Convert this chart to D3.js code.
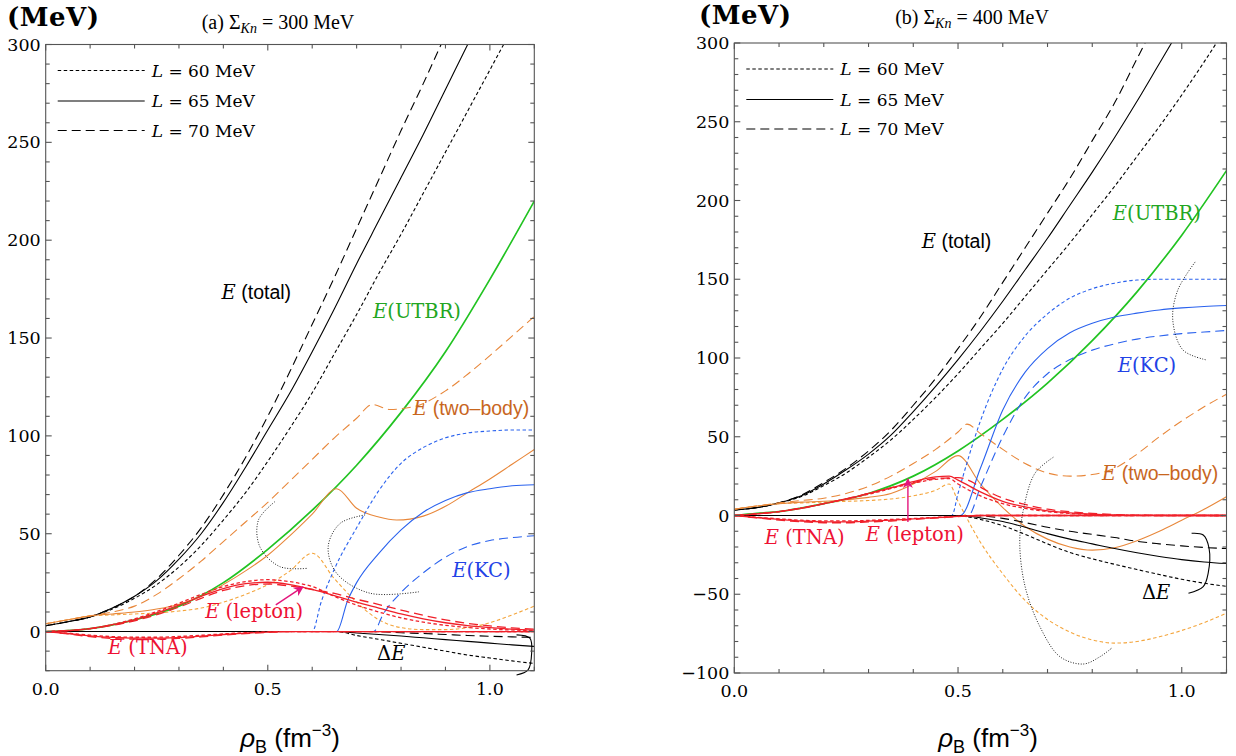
<!DOCTYPE html>
<html><head><meta charset="utf-8">
<script src="https://cdn.jsdelivr.net/npm/d3@7"></script>
<style>body{margin:0;background:#fff}svg{display:block}</style></head>
<body><svg id="c" width="1236" height="756"></svg>
<script>
// ---------- axis ticks ----------
const xTickVals = [0, 0.5, 1.0];
const xTickLabels = ["0.0", "0.5", "1.0"];
const aYTicks = [0, 50, 100, 150, 200, 250, 300];
const bYTicks = [-100, -50, 0, 50, 100, 150, 200, 250, 300];
const legendLabels = ["60", "65", "70"];

// ---------- panel (a) Σ_Kn = 300 MeV : [rho, E] ----------
const a_total60 = [[0,3],[0.05,5],[0.1,7.5],[0.15,11.5],[0.2,17],[0.25,24],[0.3,33],[0.35,44],[0.4,57],[0.45,71],[0.5,87],[0.55,104],[0.6,122],[0.65,142],[0.7,162],[0.75,183],[0.8,203],[0.85,224],[0.9,245],[0.95,266],[1.0,287],[1.05,308]];
const a_total65 = [[0,3],[0.05,5],[0.1,7.5],[0.15,12],[0.2,18],[0.25,26],[0.3,37],[0.35,50],[0.4,66],[0.45,84],[0.5,103],[0.55,122],[0.6,143],[0.65,165],[0.7,188],[0.75,210],[0.8,232],[0.85,254],[0.9,277],[0.95,300],[0.97,309]];
const a_total70 = [[0,3],[0.05,5],[0.1,7.5],[0.15,12],[0.2,18],[0.25,27],[0.3,39],[0.35,53],[0.4,70],[0.45,89],[0.5,110],[0.55,133],[0.6,157],[0.65,181],[0.7,206],[0.75,231],[0.8,256],[0.85,280],[0.9,305]];
const a_utbr = [[0,0],[0.1,1.5],[0.2,6],[0.3,13],[0.4,25],[0.5,42],[0.6,62],[0.7,85],[0.8,112],[0.9,143],[1.0,180],[1.1,220]];
const a_two60 = [[0,4],[0.05,6],[0.1,8],[0.15,8.5],[0.2,9],[0.25,9.5],[0.3,10.5],[0.35,12],[0.4,15],[0.45,19],[0.5,24],[0.55,31],[0.6,40],[0.65,27],[0.7,15],[0.75,6],[0.8,2],[0.85,1],[0.9,1],[0.95,2],[1.0,4.5],[1.05,8.5],[1.1,13]];
const a_two65 = [[0,4],[0.05,6],[0.1,8],[0.15,9],[0.2,10],[0.25,11.5],[0.3,14],[0.35,18],[0.4,24],[0.45,31],[0.5,39],[0.55,49],[0.6,60],[0.655,73],[0.7,63],[0.75,58.5],[0.79,57],[0.85,59],[0.9,64],[0.95,71],[1.0,78],[1.05,85.5],[1.1,93]];
const a_two70 = [[0,4],[0.05,6],[0.1,8],[0.15,10],[0.2,13],[0.25,19],[0.3,27],[0.35,36],[0.4,46],[0.45,56],[0.5,66],[0.55,77],[0.6,88],[0.65,99],[0.7,109],[0.735,116],[0.775,113.5],[0.83,115],[0.9,123],[0.95,131.5],[1.0,141],[1.05,151],[1.1,161]];
const a_kc60 = [[0,0],[0.6,0],[0.62,15],[0.65,32],[0.7,53],[0.75,72],[0.8,86],[0.85,94],[0.9,99],[0.95,101.5],[1.0,102.5],[1.05,103],[1.1,103]];
const a_kc65 = [[0,0],[0.655,0],[0.68,16],[0.7,25],[0.75,40],[0.8,52],[0.85,61],[0.9,67],[0.95,71],[1.0,73],[1.05,74.5],[1.1,75]];
const a_kc70 = [[0,0],[0.738,0],[0.76,9],[0.8,20],[0.85,30],[0.9,38],[0.95,43.5],[1.0,46.5],[1.05,48],[1.1,49]];
const a_dE60 = [[0,0],[0.655,0],[0.7,-2],[0.75,-4],[0.8,-6],[0.85,-8],[0.9,-10],[0.95,-12],[1.0,-13.5],[1.05,-15],[1.1,-16.3]];
const a_dE65 = [[0,0],[0.655,0],[0.7,-0.7],[0.75,-1.5],[0.8,-2.3],[0.85,-3.2],[0.9,-4.1],[0.95,-5],[1.0,-5.9],[1.05,-6.8],[1.1,-7.6]];
const a_dE70 = [[0,0],[0.738,0],[0.8,-0.6],[0.85,-1],[0.9,-1.5],[0.95,-2],[1.0,-2.4],[1.05,-2.7],[1.1,-3]];
const a_lep60 = [[0,0],[0.1,1.5],[0.2,6.5],[0.3,14.5],[0.35,19],[0.4,23],[0.45,25.5],[0.5,26.5],[0.55,25.5],[0.6,23],[0.655,17.5],[0.7,13.5],[0.75,10],[0.8,7],[0.85,4.8],[0.9,3.2],[0.95,2.1],[1.0,1.3],[1.1,0.5]];
const a_lep65 = [[0,0],[0.05,0.5],[0.1,1.5],[0.15,3.5],[0.2,6],[0.25,9.5],[0.3,13.5],[0.35,18],[0.4,22],[0.45,24.5],[0.5,25.2],[0.55,24],[0.6,21.5],[0.655,18],[0.7,15],[0.75,12],[0.8,9],[0.85,6.5],[0.9,4.5],[0.95,3],[1.0,2],[1.05,1.2],[1.1,0.7]];
const a_lep70 = [[0,0],[0.1,1.5],[0.2,5.5],[0.3,12.5],[0.35,17],[0.4,21],[0.45,23.5],[0.5,24.3],[0.55,23.3],[0.6,21.5],[0.65,19.5],[0.7,16.5],[0.738,14.5],[0.8,11],[0.85,8.3],[0.9,6],[0.95,4.2],[1.0,2.9],[1.05,1.9],[1.1,1.2]];
const a_tna60 = [[0,0],[0.05,-0.8],[0.1,-1.8],[0.15,-2.6],[0.2,-2.9],[0.25,-2.9],[0.3,-2.5],[0.35,-1.9],[0.4,-1.2],[0.45,-0.6],[0.5,-0.2],[0.55,0],[1.1,0]];
const a_tna65 = [[0,0],[0.05,-1],[0.1,-2.2],[0.15,-3],[0.2,-3.4],[0.25,-3.4],[0.3,-3],[0.35,-2.3],[0.4,-1.5],[0.45,-0.8],[0.5,-0.3],[0.55,0],[1.1,0]];
const a_tna70 = [[0,0],[0.05,-1.2],[0.1,-2.6],[0.15,-3.5],[0.2,-3.9],[0.25,-3.9],[0.3,-3.5],[0.35,-2.7],[0.4,-1.8],[0.45,-1],[0.5,-0.4],[0.55,0],[1.1,0]];
const a_arc1 = [[0.516,66.4],[0.479,57],[0.482,43.4],[0.527,33.2],[0.588,32.3]];
const a_arc2 = [[0.719,59.6],[0.663,55.3],[0.636,43.4],[0.655,29.8],[0.73,19.6],[0.843,20.4]];
const a_brace = [[1.06,-1.7],[1.09,-3.4],[1.094,-11.1],[1.086,-19.6],[1.06,-22.2]];
const a_arrow = [[0.518,13.6],[0.579,22.8]];

// ---------- panel (b) Σ_Kn = 400 MeV ----------
const b_total60 = [[0,3.5],[0.05,5],[0.1,8],[0.15,12],[0.2,19],[0.25,27],[0.3,37],[0.35,48],[0.4,61],[0.45,75],[0.5,90],[0.55,106],[0.6,122],[0.65,139],[0.7,156],[0.75,173],[0.8,191],[0.85,209],[0.9,228],[0.95,247],[1.0,267],[1.05,288],[1.1,310]];
const b_total65 = [[0,3.5],[0.05,5],[0.1,8],[0.15,12.5],[0.2,20],[0.25,29],[0.3,39],[0.35,51],[0.4,66],[0.45,82],[0.5,99],[0.55,117],[0.6,136],[0.65,156],[0.7,176],[0.75,197],[0.8,218],[0.85,240],[0.9,263],[0.95,287],[1.0,311]];
const b_total70 = [[0,3.5],[0.05,5],[0.1,8],[0.15,13],[0.2,21],[0.25,30],[0.3,41],[0.35,54],[0.4,70],[0.45,87],[0.5,106],[0.55,126],[0.6,148],[0.65,170],[0.7,192],[0.75,214],[0.8,238],[0.85,262],[0.9,290],[0.95,318]];
const b_utbr = [[0,0],[0.05,1.4],[0.1,2.5],[0.2,7.5],[0.3,14],[0.4,25],[0.5,41],[0.6,61],[0.7,84],[0.8,111],[0.9,142],[1.0,178],[1.1,219]];
const b_two60 = [[0,4],[0.05,6],[0.1,7.5],[0.15,8],[0.2,8.5],[0.25,9],[0.3,9.5],[0.35,10.5],[0.4,12.5],[0.45,16],[0.48,20],[0.5,9],[0.55,-17],[0.6,-37],[0.65,-54],[0.7,-66],[0.75,-74],[0.8,-79],[0.85,-81],[0.9,-80],[0.95,-77],[1.0,-73],[1.05,-68],[1.1,-62]];
const b_two65 = [[0,4],[0.05,6],[0.1,7.5],[0.15,8.5],[0.2,9],[0.25,10],[0.3,11.5],[0.35,14],[0.4,20],[0.45,28],[0.5,38],[0.55,20],[0.6,5],[0.65,-7],[0.7,-15],[0.75,-20],[0.8,-22],[0.85,-20.5],[0.9,-16],[0.95,-10],[1.0,-3],[1.05,4],[1.1,12]];
const b_two70 = [[0,4],[0.05,6],[0.1,8],[0.15,9.5],[0.2,11],[0.25,14],[0.3,18.5],[0.35,25],[0.4,33],[0.45,42],[0.5,53],[0.52,58],[0.55,52],[0.6,42],[0.65,33],[0.7,27],[0.75,25],[0.8,26],[0.85,30],[0.9,39],[0.95,50],[1.0,60],[1.05,69],[1.1,77]];
const b_kc60 = [[0,0],[0.486,0],[0.5,14],[0.55,60],[0.6,93],[0.65,114],[0.7,128],[0.75,138],[0.8,144],[0.85,147.5],[0.9,149.5],[0.95,150],[1.1,150]];
const b_kc65 = [[0,0],[0.505,0],[0.55,30],[0.6,67],[0.65,91],[0.7,106],[0.75,116],[0.8,122],[0.85,126],[0.9,128.5],[0.95,130.5],[1.0,131.8],[1.05,132.7],[1.1,133.3]];
const b_kc70 = [[0,0],[0.523,0],[0.55,18],[0.6,50],[0.65,75],[0.7,90],[0.75,99],[0.8,105],[0.85,109],[0.9,112],[0.95,114],[1.0,115.5],[1.05,116.5],[1.1,117.5]];
const b_dE60 = [[0,0],[0.49,0],[0.55,-2.5],[0.6,-6.5],[0.65,-12],[0.7,-18],[0.75,-23.5],[0.8,-27.5],[0.85,-31],[0.9,-34.3],[0.95,-37.5],[1.0,-40.5],[1.05,-43],[1.1,-45]];
const b_dE65 = [[0,0],[0.505,0],[0.55,-1.5],[0.6,-3.8],[0.65,-7.5],[0.7,-11.5],[0.75,-15],[0.8,-18],[0.85,-21],[0.9,-23.7],[0.95,-26],[1.0,-28],[1.05,-29.5],[1.1,-30.5]];
const b_dE70 = [[0,0],[0.53,0],[0.6,-1.8],[0.65,-4.5],[0.7,-7.5],[0.75,-10],[0.8,-12],[0.85,-14],[0.9,-16.4],[0.95,-18],[1.0,-19.3],[1.05,-20.3],[1.1,-21]];
const b_lep60 = [[0,0],[0.1,2.5],[0.2,7.5],[0.3,13.5],[0.4,20.5],[0.45,23],[0.48,23.5],[0.5,20],[0.55,12.5],[0.6,7.5],[0.65,4.5],[0.7,2.5],[0.75,1.3],[0.8,0.6],[0.9,0.1],[1.1,0]];
const b_lep65 = [[0,0],[0.05,1],[0.1,2.5],[0.15,4.5],[0.2,7.5],[0.25,10.5],[0.3,14],[0.35,17.5],[0.4,21.5],[0.45,24.5],[0.48,25],[0.5,22.5],[0.55,15],[0.6,9],[0.65,5.5],[0.7,3],[0.75,1.7],[0.8,0.8],[0.85,0.3],[0.9,0.1],[0.95,0],[1.1,0]];
const b_lep70 = [[0,0],[0.1,2.5],[0.2,7.5],[0.3,14],[0.4,21],[0.45,23.5],[0.5,24],[0.53,21.5],[0.55,18],[0.6,11],[0.65,7],[0.7,4],[0.75,2.4],[0.8,1.3],[0.85,0.6],[0.9,0.2],[1.1,0]];
const b_tna60 = [[0,0],[0.05,-1.1],[0.1,-2.1],[0.15,-3],[0.2,-3.4],[0.25,-3.4],[0.3,-3.1],[0.35,-2.5],[0.4,-1.9],[0.45,-1.2],[0.5,-0.5],[0.55,0],[1.1,0]];
const b_tna65 = [[0,0],[0.05,-1.3],[0.1,-2.5],[0.15,-3.5],[0.2,-4],[0.25,-4],[0.3,-3.6],[0.35,-3],[0.4,-2.2],[0.45,-1.4],[0.5,-0.6],[0.55,0],[1.1,0]];
const b_tna70 = [[0,0],[0.05,-1.5],[0.1,-2.9],[0.15,-4],[0.2,-4.6],[0.25,-4.6],[0.3,-4.1],[0.35,-3.5],[0.4,-2.5],[0.45,-1.6],[0.5,-0.7],[0.55,0],[1.1,0]];
const b_arc1 = [[0.713,37],[0.672,26.8],[0.646,3.5],[0.638,-17.7],[0.65,-45.2],[0.683,-70.6],[0.728,-89.7],[0.78,-94.3],[0.817,-89.7],[0.843,-84.3]];
const b_arc2 = [[1.03,161],[0.991,143],[0.98,124],[1.003,105],[1.056,98.7]];
const b_brace = [[1.022,-11.3],[1.048,-12.4],[1.061,-20.8],[1.059,-36.7],[1.048,-45.2],[1.015,-49.4]];
const b_arrow = [[0.388,-4.1],[0.388,23.2]];

// ---------- styles ----------
const DASH = {"60":"3.5,2.5", "65":null, "70":"9,5"};
const COL = {black:"#000", green:"#22c322", orange:"#e8873a", orangeL:"#f4a53c", blue:"#2a62ee",
  red:"#f0202a", magenta:"#e3157c", tOrange:"#c8661e", tGreen:"#22a622", tBlue:"#2242e6", tRed:"#ee1133"};
const SERIF = "'DejaVu Serif', serif", SANS = "'Liberation Sans', Arial, sans-serif";

const svg = d3.select("#c");

const panels = [
 {key:"a", x0:45.7, x1:534.3, y0:44.5, y1:670.7, ymin:-20, ymax:300, yTicks:aYTicks, title:"(a) ", val:" = 300 MeV",
  total:[a_total60,a_total65,a_total70], utbr:a_utbr, two:[a_two60,a_two65,a_two70], kc:[a_kc60,a_kc65,a_kc70],
  dE:[a_dE60,a_dE65,a_dE70], lep:[a_lep60,a_lep65,a_lep70], tna:[a_tna60,a_tna65,a_tna70],
  arcs:[a_arc1,a_arc2], brace:a_brace, arrow:a_arrow,
  labels:[
   {p:[0.396,169.9], parts:[["E","serif","italic"],[" (total)","sans"]], c:COL.black},
   {p:[0.737,160.2], parts:[["E","serif","italic"],["(UTBR)","serif"]], c:COL.tGreen},
   {p:[0.827,110.7], parts:[["E","serif","italic"],[" (two\u2013body)","sans"]], c:COL.tOrange},
   {p:[0.915,27.9], parts:[["E","serif","italic"],["(KC)","serif"]], c:COL.tBlue},
   {p:[0.359,6.9], parts:[["E","serif","italic"],[" (lepton)","serif"]], c:COL.tRed},
   {p:[0.140,-11.4], parts:[["E","serif","italic"],[" (TNA)","serif"]], c:COL.tRed},
   {p:[0.746,-14.5], parts:[["\u0394","serif"],["E","serif","italic"]], c:COL.black}
  ], mev:[7,26], titleX:278, titleY:29, axisTitleX:290},
 {key:"b", x0:734.3, x1:1226.5, y0:43, y1:673, ymin:-100, ymax:300, yTicks:bYTicks, title:"(b) ", val:" = 400 MeV",
  total:[b_total60,b_total65,b_total70], utbr:b_utbr, two:[b_two60,b_two65,b_two70], kc:[b_kc60,b_kc65,b_kc70],
  dE:[b_dE60,b_dE65,b_dE70], lep:[b_lep60,b_lep65,b_lep70], tna:[b_tna60,b_tna65,b_tna70],
  arcs:[b_arc1,b_arc2], brace:b_brace, arrow:b_arrow,
  labels:[
   {p:[0.419,169.8], parts:[["E","serif","italic"],[" (total)","sans"]], c:COL.black},
   {p:[0.846,187.6], parts:[["E","serif","italic"],["(UTBR)","serif"]], c:COL.tGreen},
   {p:[0.857,91.1], parts:[["E","serif","italic"],["(KC)","serif"]], c:COL.tBlue},
   {p:[0.822,22.5], parts:[["E","serif","italic"],[" (two\u2013body)","sans"]], c:COL.tOrange},
   {p:[0.068,-18.1], parts:[["E","serif","italic"],[" (TNA)","serif"]], c:COL.tRed},
   {p:[0.294,-16.2], parts:[["E","serif","italic"],[" (lepton)","serif"]], c:COL.tRed},
   {p:[0.911,-53], parts:[["\u0394","serif"],["E","serif","italic"]], c:COL.black}
  ], mev:[699,24], titleX:972, titleY:24, axisTitleX:988}
];

const defs = svg.append("defs");
defs.append("marker").attr("id","ah").attr("viewBox","0 0 10 10").attr("refX",9).attr("refY",5)
  .attr("markerWidth",10).attr("markerHeight",10).attr("orient","auto").attr("markerUnits","userSpaceOnUse")
  .append("path").attr("d","M0,0 L10,5 L0,10 L3,5 Z").attr("fill",COL.magenta);

panels.forEach(P => {
  const x = d3.scaleLinear().domain([0,1.1]).range([P.x0,P.x1]);
  const y = d3.scaleLinear().domain([P.ymin,P.ymax]).range([P.y1,P.y0]);
  const line = d3.line().x(d=>x(d[0])).y(d=>y(d[1])).curve(d3.curveMonotoneX);
  const smooth = d3.line().x(d=>x(d[0])).y(d=>y(d[1])).curve(d3.curveCatmullRom.alpha(0.5));
  const straight = d3.line().x(d=>x(d[0])).y(d=>y(d[1]));

  defs.append("clipPath").attr("id","clip"+P.key).append("rect")
    .attr("x",P.x0).attr("y",P.y0).attr("width",P.x1-P.x0).attr("height",P.y1-P.y0);
  const g = svg.append("g").attr("clip-path",`url(#clip${P.key})`);
  const draw = (data, color, dash, w) => g.append("path").attr("d",line(data)).attr("fill","none")
      .attr("stroke",color).attr("stroke-width",w).attr("stroke-dasharray",dash);

  const keys = ["60","65","70"];
  P.total.forEach((d,i)=>draw(d,COL.black,DASH[keys[i]],1.1));
  draw(P.utbr,COL.green,null,1.7);
  P.two.forEach((d,i)=>draw(d, i===0?COL.orangeL:COL.orange, DASH[keys[i]], 1.1));
  P.kc.forEach((d,i)=>draw(d,COL.blue,DASH[keys[i]],1.1));
  P.dE.forEach((d,i)=>draw(d,COL.black,DASH[keys[i]],1.1));
  P.lep.forEach((d,i)=>draw(d,COL.red,DASH[keys[i]],1.3));
  P.tna.forEach((d,i)=>draw(d,COL.red,DASH[keys[i]],1.3));

  // annotations (not clipped)
  const ga = svg.append("g");
  P.arcs.forEach(d => ga.append("path").attr("d",smooth(d)).attr("fill","none")
     .attr("stroke","#222").attr("stroke-width",1).attr("stroke-dasharray","1,1.6"));
  ga.append("path").attr("d",smooth(P.brace)).attr("fill","none").attr("stroke","#000").attr("stroke-width",1.1);
  ga.append("path").attr("d",straight(P.arrow)).attr("fill","none").attr("stroke",COL.magenta)
     .attr("stroke-width",1.4).attr("marker-end","url(#ah)");

  // curve labels
  P.labels.forEach(L => {
    const t = ga.append("text").attr("x",x(L.p[0])).attr("y",y(L.p[1])).attr("fill",L.c).attr("font-size",19.5);
    L.parts.forEach(pt => t.append("tspan").text(pt[0]).attr("font-family",pt[1]==="sans"?SANS:SERIF)
      .attr("font-style",pt[2]||"normal"));
  });

  // frame + ticks
  const fr = svg.append("g").attr("stroke","#555").attr("stroke-width",1.1);
  fr.append("rect").attr("x",P.x0).attr("y",P.y0).attr("width",P.x1-P.x0).attr("height",P.y1-P.y0).attr("fill","none");
  d3.range(0,1.1001,0.1).forEach(v => {
    const big = Math.abs(v*2-Math.round(v*2))<1e-6;
    const L = big?6:4;
    fr.append("line").attr("x1",x(v)).attr("x2",x(v)).attr("y1",P.y1).attr("y2",P.y1-L);
    fr.append("line").attr("x1",x(v)).attr("x2",x(v)).attr("y1",P.y0).attr("y2",P.y0+L);
  });
  d3.range(P.ymin,P.ymax+0.01,10).forEach(v => {
    const big = v%50===0;
    const L = big?6:4;
    fr.append("line").attr("x1",P.x0).attr("x2",P.x0+L).attr("y1",y(v)).attr("y2",y(v));
    fr.append("line").attr("x1",P.x1).attr("x2",P.x1-L).attr("y1",y(v)).attr("y2",y(v));
  });
  const tl = svg.append("g").attr("font-family",SERIF).attr("font-size",17.5).attr("fill","#000");
  P.yTicks.forEach(v => tl.append("text").attr("x",P.x0-5).attr("y",y(v)+6).attr("text-anchor","end")
     .text(v<0?"\u2212"+Math.abs(v):String(v)));
  xTickVals.forEach((v,i) => tl.append("text").attr("x",x(v)).attr("y",P.y1+24).attr("text-anchor","middle").text(xTickLabels[i]));

  // (MeV)
  svg.append("text").attr("x",P.mev[0]).attr("y",P.mev[1]).attr("font-family",SERIF).attr("font-size",26)
     .attr("font-weight",600).attr("letter-spacing",0.5).text("(MeV)");
  // title
  const tt = svg.append("text").attr("x",P.titleX).attr("y",P.titleY).attr("text-anchor","middle")
     .attr("font-family","'Liberation Serif', serif").attr("font-size",20);
  tt.append("tspan").text(P.title + "\u03A3");
  tt.append("tspan").text("Kn").attr("font-style","italic").attr("font-size",14).attr("dy",4);
  tt.append("tspan").text(P.val).attr("dy",-4);
  // axis title
  const at = svg.append("text").attr("x",P.axisTitleX).attr("y",747).attr("text-anchor","middle")
     .attr("font-family",SANS).attr("font-size",26);
  at.append("tspan").text("\u03C1").attr("font-style","italic");
  at.append("tspan").text("B").attr("font-size",18).attr("dy",6);
  at.append("tspan").text(" (fm").attr("dy",-6);
  at.append("tspan").text("\u22123").attr("font-size",17).attr("dy",-11);
  at.append("tspan").text(")").attr("dy",11);

  // legend
  const lg = svg.append("g");
  [26,56.5,86].forEach((dy,i) => {
    const yy = P.y0+dy;
    lg.append("line").attr("x1",P.x0+12).attr("x2",P.x0+99).attr("y1",yy).attr("y2",yy)
      .attr("stroke","#000").attr("stroke-width",1.1).attr("stroke-dasharray",DASH[keys[i]]);
    const t = lg.append("text").attr("x",P.x0+106).attr("y",yy+6).attr("font-family",SERIF).attr("font-size",17);
    t.append("tspan").text("L").attr("font-style","italic");
    t.append("tspan").text(" = " + legendLabels[i] + " MeV");
  });
});
</script>
</body></html>
